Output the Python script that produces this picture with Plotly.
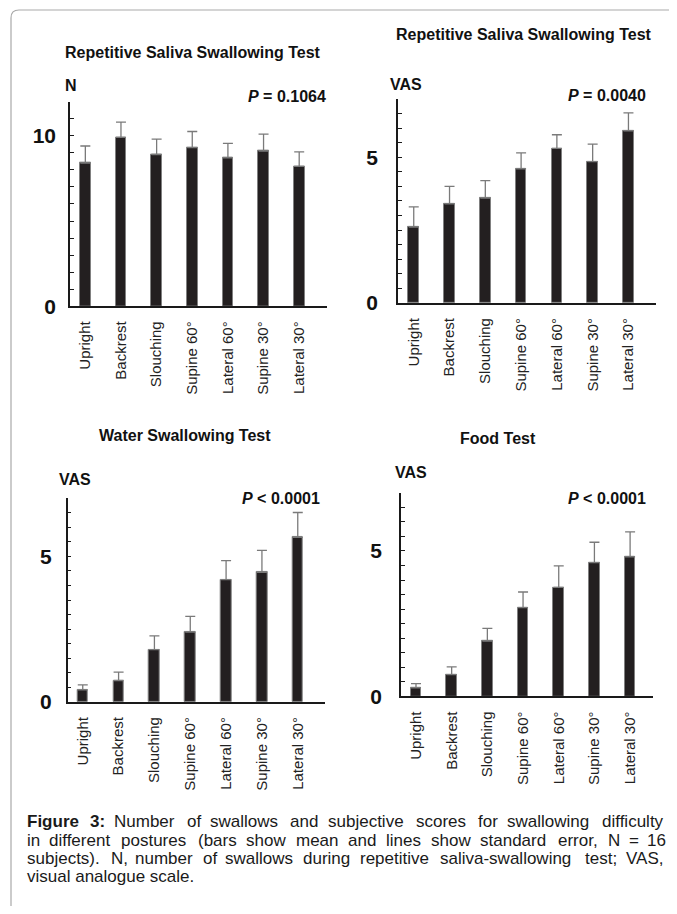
import plotly.graph_objects as go

# The page body has an 8px default margin, so the figure is sized to fill the
# remaining 677x914 window and all pixel coordinates below are window pixels.
OFF = 8
W, H = 677 - OFF, 914 - 2 * OFF

categories = ["Upright", "Backrest", "Slouching", "Supine 60°", "Lateral 60°", "Supine 30°", "Lateral 30°"]

rsst_n_mean = [8.4, 9.9, 8.9, 9.3, 8.7, 9.1, 8.2]
rsst_n_se = [1.0, 0.9, 0.9, 0.95, 0.85, 1.0, 0.85]
rsst_vas_mean = [2.6, 3.4, 3.6, 4.6, 5.3, 4.85, 5.9]
rsst_vas_se = [0.7, 0.6, 0.6, 0.55, 0.47, 0.6, 0.62]
wst_vas_mean = [0.42, 0.74, 1.8, 2.4, 4.2, 4.45, 5.65]
wst_vas_se = [0.17, 0.29, 0.47, 0.54, 0.65, 0.75, 0.85]
food_vas_mean = [0.3, 0.75, 1.9, 3.05, 3.75, 4.6, 4.8]
food_vas_se = [0.14, 0.27, 0.44, 0.54, 0.74, 0.7, 0.86]

titles = ["Repetitive Saliva Swallowing Test", "Repetitive Saliva Swallowing Test",
          "Water Swallowing Test", "Food Test"]
ylabels = ["N", "VAS", "VAS", "VAS"]
p_labels = ["<i>P</i> = 0.1064", "<i>P</i> = 0.0040", "<i>P</i> < 0.0001", "<i>P</i> < 0.0001"]
y_max = [12, 7, 7, 7]
y_dtick = [1, 0.5, 0.5, 0.5]
y_labeled = [[0, 10], [0, 5], [0, 5], [0, 5]]

caption_lines = [
    "Figure 3: Number of swallows and subjective scores for swallowing difficulty",
    "in different postures (bars show mean and lines show standard error, N = 16",
    "subjects). N, number of swallows during repetitive saliva-swallowing test; VAS,",
    "visual analogue scale.",
]

FONT = "Liberation Sans, Arial, Helvetica, sans-serif"


def px(x):
    return (x - OFF) / W


def py(y):
    return 1 - (y - OFF) / H


geo = [
    dict(x0=70, x1=327, yb=310, yt=102.8, xr=[-0.43, 6.78], stand=8,
         title=(64, 53), ylab=(64, 86), p=(327, 98)),
    dict(x0=398, x1=656, yb=306.7, yt=100, xr=[-0.44, 6.77], stand=14,
         title=(395, 35), ylab=(389, 85), p=(647, 97)),
    dict(x0=67.7, x1=325, yb=710.7, yt=504, xr=[-0.42, 6.76], stand=10,
         title=(98, 441), ylab=(58, 485), p=(321, 505)),
    dict(x0=401, x1=653.3, yb=705, yt=498.8, xr=[-0.42, 6.65], stand=13,
         title=(459, 444), ylab=(394, 478), p=(647, 505)),
]

means = [rsst_n_mean, rsst_vas_mean, wst_vas_mean, food_vas_mean]
ses = [rsst_n_se, rsst_vas_se, wst_vas_se, food_vas_se]

fig = go.Figure()
layout_axes = {}
annotations = []

for i in range(4):
    g = geo[i]
    xa = "x" if i == 0 else f"x{i+1}"
    ya = "y" if i == 0 else f"y{i+1}"
    fig.add_trace(go.Bar(
        x=categories, y=means[i], xaxis=xa, yaxis=ya, width=0.3,
        marker=dict(color="#231f20", line=dict(color="#808080", width=1)),
        error_y=dict(type="data", symmetric=False, array=ses[i],
                     arrayminus=[0] * len(ses[i]), color="#7a7a7a",
                     thickness=1.3, width=5),
        showlegend=False, hoverinfo="skip",
    ))
    n = int(round(y_max[i] / y_dtick[i]))
    tv = [k * y_dtick[i] for k in range(n + 1)]
    tt = [(str(int(v)) if any(abs(v - L) < 1e-9 for L in y_labeled[i]) else "") for v in tv]
    xkey = "xaxis" if i == 0 else f"xaxis{i+1}"
    ykey = "yaxis" if i == 0 else f"yaxis{i+1}"
    layout_axes[xkey] = dict(
        domain=[px(g["x0"]), px(g["x1"])], anchor=ya, type="category",
        range=g["xr"], showline=True, linecolor="#1a1a1a", linewidth=2,
        ticks="", tickangle=-90, showgrid=False, zeroline=False,
        tickfont=dict(family=FONT, size=15, color="#222222"),
        ticklabelstandoff=7, fixedrange=True,
    )
    layout_axes[ykey] = dict(
        domain=[py(g["yb"]), py(g["yt"])], anchor=xa, range=[0, y_max[i]],
        showline=True, linecolor="#1a1a1a", linewidth=1.5,
        ticks="inside", ticklen=4, tickwidth=1, tickcolor="#1a1a1a",
        tickvals=tv, ticktext=tt, showgrid=False, zeroline=False,
        tickfont=dict(family=FONT, size=21, color="#111111", weight="bold"),
        ticklabelstandoff=g["stand"], fixedrange=True,
    )
    annotations.append(dict(
        text=f"<b>{titles[i]}</b>", x=px(g["title"][0]), y=py(g["title"][1]),
        xref="paper", yref="paper", xanchor="left", yanchor="middle",
        showarrow=False, borderpad=0, font=dict(family=FONT, size=16, color="#111111")))
    annotations.append(dict(
        text=f"<b>{ylabels[i]}</b>", x=px(g["ylab"][0]), y=py(g["ylab"][1]),
        xref="paper", yref="paper", xanchor="left", yanchor="middle",
        showarrow=False, borderpad=0, font=dict(family=FONT, size=16, color="#111111")))
    annotations.append(dict(
        text=f"<b>{p_labels[i]}</b>", x=px(g["p"][0]), y=py(g["p"][1]),
        xref="paper", yref="paper", xanchor="right", yanchor="middle",
        showarrow=False, borderpad=0, font=dict(family=FONT, size=16, color="#111111")))

# Arial-metric widths (per 1000 em) for the justified caption layout
REG = {" ": 278, "(": 333, ")": 333, ",": 278, "-": 333, ".": 278, ":": 278, ";": 278,
       "=": 584, "°": 400}
for c in "0123456789":
    REG[c] = 556
REG.update({"A": 667, "B": 667, "C": 722, "D": 722, "E": 667, "F": 611, "G": 778, "H": 722,
            "I": 278, "N": 722, "P": 667, "S": 667, "T": 611, "V": 667, "W": 944})
REG.update({"a": 556, "b": 556, "c": 500, "d": 556, "e": 556, "f": 278, "g": 556, "h": 556,
            "i": 222, "j": 222, "k": 500, "l": 222, "m": 833, "n": 556, "o": 556, "p": 556,
            "q": 556, "r": 333, "s": 500, "t": 278, "u": 556, "v": 500, "w": 722, "x": 500,
            "y": 500, "z": 500})
BOLD = dict(REG)
BOLD.update({"i": 278, "g": 611, "u": 611, "r": 389, ":": 333, "F": 611, "e": 556})

CAP_SIZE = 17
WIDTH_FUDGE = 1.06
cap_x0, cap_x1 = 27, 667
cap_y = [832, 850.5, 869, 887.5]


def width(word, bold):
    tab = BOLD if bold else REG
    return sum(tab.get(c, 556) for c in word) * CAP_SIZE / 1000.0 * WIDTH_FUDGE


for li, line in enumerate(caption_lines):
    if li == len(caption_lines) - 1:
        # last line of a justified paragraph is set flush left, unjustified
        annotations.append(dict(
            text=line, x=px(cap_x0), y=py(cap_y[li]),
            xref="paper", yref="paper", xanchor="left", yanchor="middle",
            showarrow=False, borderpad=0, borderwidth=0,
            font=dict(family=FONT, size=CAP_SIZE, color="#1a1a1a")))
        continue
    words = line.split(" ")
    bolds = [li == 0 and wi < 2 for wi in range(len(words))]
    widths = [width(w, b) for w, b in zip(words, bolds)]
    gap = (cap_x1 - cap_x0 - sum(widths)) / (len(words) - 1)
    xcur = cap_x0
    for w, b, wd in zip(words, bolds, widths):
        annotations.append(dict(
            text=(f"<b>{w}</b>" if b else w), x=px(xcur), y=py(cap_y[li]),
            xref="paper", yref="paper", xanchor="left", yanchor="middle",
            showarrow=False, borderpad=0, borderwidth=0,
            font=dict(family=FONT, size=CAP_SIZE, color="#1a1a1a")))
        xcur += wd + gap

# frame with rounded top-left corner, running off the right and bottom edges
frame_path = (f"M {px(11)},{py(930)} L {px(11)},{py(18)} "
              f"Q {px(11)},{py(10)} {px(19)},{py(10)} L {px(700)},{py(10)}")

fig.update_layout(
    width=W, height=H, margin=dict(l=0, r=0, t=0, b=0),
    paper_bgcolor="white", plot_bgcolor="white",
    font=dict(family=FONT),
    annotations=annotations,
    shapes=[dict(type="path", path=frame_path, xref="paper", yref="paper",
                 line=dict(color="#a9a9a9", width=1.2))],
    bargap=0.0,
    **layout_axes,
)

fig.write_html("out.html", config={"displayModeBar": False})
